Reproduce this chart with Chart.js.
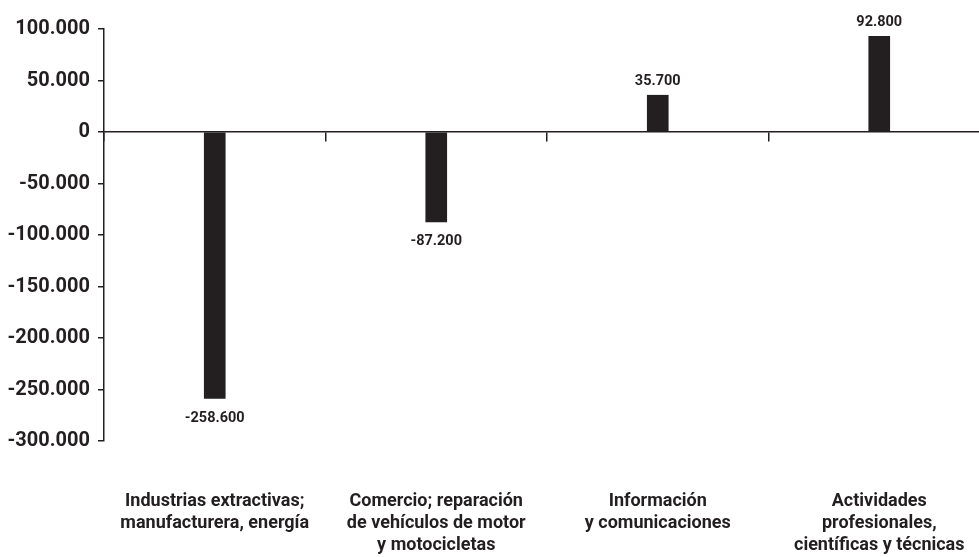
<!DOCTYPE html>
<html lang="es">
<head>
<meta charset="utf-8">
<title>Variación por sector</title>
<script src="https://cdn.jsdelivr.net/npm/chart.js@4/dist/chart.umd.min.js"></script>
<style>
  html, body { margin: 0; padding: 0; background: #fff; overflow: hidden; }
  #chart { display: block; }
</style>
</head>
<body>
<canvas id="chart" width="1000" height="557"></canvas>
<script>
// Sector categories (multi-line labels)
const categories = [
  ['Industrias extractivas;', 'manufacturera, energía'],
  ['Comercio; reparación', 'de vehículos de motor', 'y motocicletas'],
  ['Información', 'y comunicaciones'],
  ['Actividades', 'profesionales,', 'científicas y técnicas']
];
// Change per sector
const values = [-258600, -87200, 35700, 92800];
// Value axis range and tick step
const yMin = -300000;
const yMax = 100000;
const yStep = 50000;

const INK = '#231f20';
const FONT = 'Roboto, "Noto Sans", sans-serif';

// Thousands separated with a dot, plain hyphen for negatives
function fmt(v) {
  const s = Math.abs(v).toString().replace(/\B(?=(\d{3})+(?!\d))/g, '.');
  return (v < 0 ? '-' : '') + s;
}

// Writes each bar's value above (positive) or below (negative) its end
const valueLabels = {
  id: 'valueLabels',
  afterDatasetsDraw(chart) {
    const ctx = chart.ctx;
    const meta = chart.getDatasetMeta(0);
    const data = chart.data.datasets[0].data;
    ctx.save();
    ctx.font = 'bold 14.5px ' + FONT;
    ctx.fillStyle = INK;
    ctx.textAlign = 'center';
    ctx.textBaseline = 'middle';
    meta.data.forEach((bar, i) => {
      const v = data[i];
      const y = v >= 0 ? bar.y - 14 : bar.y + 20;
      ctx.fillText(fmt(v), bar.x, y);
    });
    ctx.restore();
  }
};

new Chart(document.getElementById('chart'), {
  type: 'bar',
  data: {
    labels: categories,
    datasets: [{
      data: values,
      backgroundColor: INK,
      borderWidth: 0,
      barThickness: 21
    }]
  },
  options: {
    responsive: false,
    animation: false,
    layout: { padding: { top: 29, right: 10, left: 0, bottom: 0 } },
    plugins: {
      legend: { display: false },
      tooltip: { enabled: false }
    },
    scales: {
      y: {
        min: yMin,
        max: yMax,
        ticks: {
          stepSize: yStep,
          callback: v => fmt(v),
          color: INK,
          padding: 8,
          font: { family: FONT, size: 20, weight: 'bold' }
        },
        grid: { drawOnChartArea: false, drawTicks: true, tickLength: 6, color: INK, lineWidth: 1.5 },
        border: { display: true, color: INK, width: 1.5 },
        afterFit: s => { s.width = 104; }
      },
      x: {
        type: 'category',
        position: 'bottom',
        offset: true,
        // invisible tick marks keep the labels well below the plot
        grid: { display: true, color: 'rgba(0,0,0,0)', drawOnChartArea: false, drawTicks: true, tickLength: 50 },
        border: { display: false },
        ticks: {
          color: INK,
          padding: 0,
          maxRotation: 0,
          autoSkip: false,
          font: { family: FONT, size: 18, weight: 'bold', lineHeight: 1.2 }
        },
        afterFit: s => { s.height = 116; }
      },
      // Zero baseline with category separators
      xZero: {
        type: 'category',
        axis: 'x',
        position: { y: 0 },
        offset: true,
        grid: { offset: true, drawOnChartArea: false, drawTicks: true, tickLength: 9, color: INK, lineWidth: 1.5 },
        border: { display: true, color: INK, width: 1.5 },
        ticks: { display: false }
      }
    }
  },
  plugins: [valueLabels]
});
</script>
</body>
</html>
